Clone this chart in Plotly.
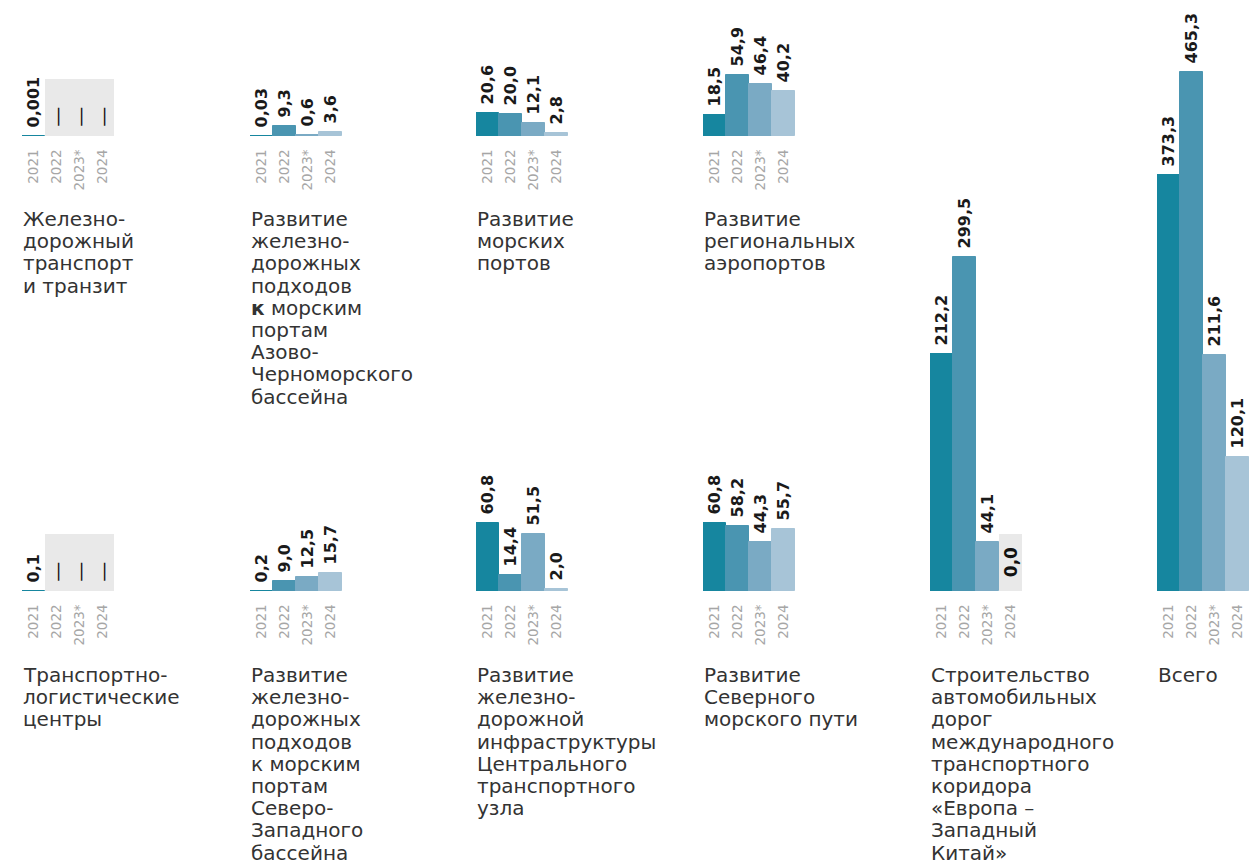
import plotly.graph_objects as go

# ---------------- data ----------------
YEARS = ["2021", "2022", "2023*", "2024"]

rail_transit = [0.001, None, None, None]
rail_azov_black_sea = [0.03, 9.3, 0.6, 3.6]
sea_ports = [20.6, 20.0, 12.1, 2.8]
regional_airports = [18.5, 54.9, 46.4, 40.2]
logistics_centers = [0.1, None, None, None]
rail_north_west = [0.2, 9.0, 12.5, 15.7]
rail_central_hub = [60.8, 14.4, 51.5, 2.0]
northern_sea_route = [60.8, 58.2, 44.3, 55.7]
europe_west_china = [212.2, 299.5, 44.1, 0.0]
total = [373.3, 465.3, 211.6, 120.1]

TITLES = [
    "Железно-\nдорожный\nтранспорт\nи транзит",
    "Развитие\nжелезно-\nдорожных\nподходов\n<b>к</b> морским\nпортам\nАзово-\nЧерноморского\nбассейна",
    "Развитие\nморских\nпортов",
    "Развитие\nрегиональных\nаэропортов",
    "Транспортно-\nлогистические\nцентры",
    "Развитие\nжелезно-\nдорожных\nподходов\nк морским\nпортам\nСеверо-\nЗападного\nбассейна",
    "Развитие\nжелезно-\nдорожной\nинфраструктуры\nЦентрального\nтранспортного\nузла",
    "Развитие\nСеверного\nморского пути",
    "Строительство\nавтомобильных\nдорог\nмеждународного\nтранспортного\nкоридора\n«Европа –\nЗападный\nКитай»",
    "Всего",
]
SERIES = [rail_transit, rail_azov_black_sea, sea_ports, regional_airports,
          logistics_centers, rail_north_west, rail_central_hub,
          northern_sea_route, europe_west_china, total]

# ---------------- style / layout ----------------
W, H = 1255, 866
COLORS = ["#16869f", "#4a95b1", "#7aaac4", "#a7c4d7"]
GRAY = "#e9e9e9"
PLACEHOLDER_H = 51.5
SCALE = 1.115  # px per unit
COL_X = [22, 250, 476, 703, 930, 1157]
PANEL_W = 92
# (column, baseline_px, top_px, title_first_line_center_px)
PANELS = [
    (0, 136, 0, 219), (1, 136, 0, 219), (2, 136, 0, 219), (3, 136, 0, 219),
    (0, 591, 440, 675), (1, 591, 440, 675), (2, 591, 440, 675), (3, 591, 440, 675),
    (4, 591, 0, 675), (5, 591, 0, 675),
]
LINE_H = 22.2
FONT = "DejaVu Sans"
NB = "\u00a0"


def fmt(v):
    s = f"{v:.1f}" if round(v, 1) == v else repr(v)
    return s.replace(".", ",")


fig = go.Figure()
annotations = []
layout_axes = {}

for i, (vals, title, (col, base, top, ty)) in enumerate(zip(SERIES, TITLES, PANELS)):
    n = "" if i == 0 else str(i + 1)
    xa, ya = "x" + n, "y" + n
    x0 = COL_X[col]
    xdom = [x0 / W, (x0 + PANEL_W) / W]
    ydom = [1 - base / H, 1 - top / H]
    yrange = [0, (base - top) / SCALE]

    # placeholder (no data / zero) grey boxes
    ph_y = [PLACEHOLDER_H if (v is None or v == 0) else None for v in vals]
    ph_text = ["<span style='font-size:20px'>" + NB + "—</span>" if v is None else
               (NB * 2 + "<b>" + fmt(v) + "</b>" if v == 0 else "") for v in vals]
    fig.add_trace(go.Bar(
        x=YEARS, y=ph_y, xaxis=xa, yaxis=ya,
        marker=dict(color=GRAY, line=dict(width=0)),
        text=ph_text, textposition="inside", insidetextanchor="start",
        textangle=-90, constraintext="none",
        insidetextfont=dict(family=FONT, size=17, color="#111111"),
        hoverinfo="skip", showlegend=False,
    ))
    # data bars
    d_y = [v if v is not None else None for v in vals]
    d_text = [NB + "<b>" + fmt(v) + "</b>" if (v is not None and v != 0) else "" for v in vals]
    lw = [1 if (v is not None and v != 0) else 0 for v in vals]
    fig.add_trace(go.Bar(
        x=YEARS, y=d_y, xaxis=xa, yaxis=ya,
        marker=dict(color=COLORS, line=dict(color=COLORS, width=lw)),
        text=d_text, textposition="outside", textangle=-90,
        constraintext="none", cliponaxis=False,
        outsidetextfont=dict(family=FONT, size=16, color="#1a1a1a"),
        hoverinfo="skip", showlegend=False,
    ))

    layout_axes["xaxis" + n] = dict(
        domain=xdom, anchor=ya, type="category", categoryorder="array",
        categoryarray=YEARS, range=[-0.5, 3.5], showgrid=False, zeroline=False,
        showline=False, tickangle=-90, ticks="outside", ticklen=7,
        tickcolor="rgba(0,0,0,0)",
        tickfont=dict(family=FONT, size=13.5, color="#a6a6a6"),
        fixedrange=True,
    )
    layout_axes["yaxis" + n] = dict(
        domain=ydom, anchor=xa, range=yrange, visible=False,
        showgrid=False, zeroline=False, fixedrange=True,
    )

    for k, line in enumerate(title.split("\n")):
        annotations.append(dict(
            text=line, xref="paper", yref="paper",
            x=(x0 - 1) / W, y=1 - (ty + k * LINE_H) / H,
            xanchor="left", yanchor="middle", showarrow=False,
            font=dict(family=FONT, size=20, color="#333333"),
        ))

fig.update_layout(
    width=W, height=H, margin=dict(l=0, r=0, t=0, b=0),
    paper_bgcolor="white", plot_bgcolor="white",
    barmode="overlay", bargap=0,
    annotations=annotations, **layout_axes,
)

fig.write_html("out.html", config={"displayModeBar": False},
               post_script="document.body.style.margin='0';")
